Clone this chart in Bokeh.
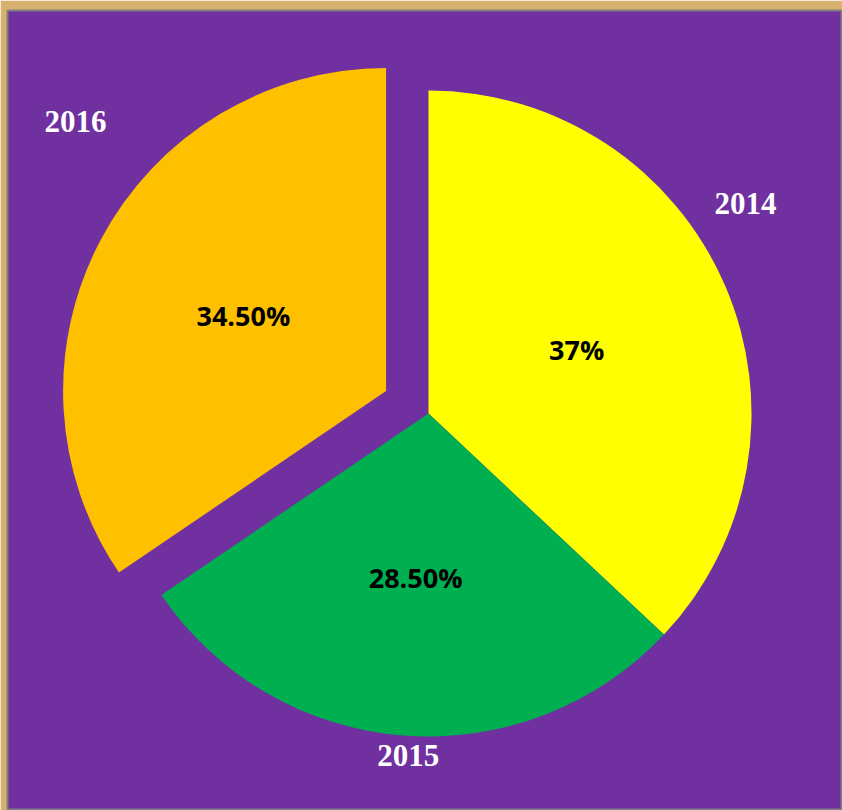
import math
from bokeh.plotting import figure
from bokeh.models import Range1d, ColumnDataSource
from bokeh.core.properties import value
from bokeh.embed import file_html
from bokeh.resources import INLINE

# ---- data ----
years = ["2014", "2015", "2016"]
shares = [37.0, 28.5, 34.5]
pct_labels = ["37%", "28.50%", "34.50%"]
colors = ["#FFFF00", "#00B050", "#FFC000"]

# ---- layout (data units == screen pixels) ----
W, H = 842, 810
BL, BT = 7, 10          # golden frame widths (left, top)
cx, cy = 428, 397
R = 323
explode = [0, 0, 48]
pct_r = [0.5, 0.51, 0.5]
# outside category label placement: (angle in degrees, distance in px) from slice centre
cat_pos = [(33.5, 380), (-93.4, 343), (139.1, 411)]

total = sum(shares)
starts, ends, xs, ys, px, py, lx, ly = [], [], [], [], [], [], [], []
a = math.pi / 2
for i, s in enumerate(shares):
    sweep = s / total * 2 * math.pi
    st, en = a, a - sweep
    mid = (st + en) / 2
    ox = cx + explode[i] * math.cos(mid)
    oy = cy + explode[i] * math.sin(mid)
    starts.append(st); ends.append(en)
    xs.append(ox); ys.append(oy)
    px.append(ox + pct_r[i] * R * math.cos(mid))
    py.append(oy + pct_r[i] * R * math.sin(mid))
    ang, dist = cat_pos[i]
    lx.append(ox + dist * math.cos(math.radians(ang)))
    ly.append(oy + dist * math.sin(math.radians(ang)))
    a = en

src = ColumnDataSource(dict(x=xs, y=ys, start=starts, end=ends, color=colors,
                            px=px, py=py, pct=pct_labels, lx=lx, ly=ly, year=years))

p = figure(width=W, height=H, output_backend="svg", toolbar_location=None,
           x_range=Range1d(BL, W), y_range=Range1d(0, H - BT),
           min_border_left=BL, min_border_top=BT, min_border_right=0, min_border_bottom=0)
p.axis.visible = False
p.grid.visible = False
p.background_fill_color = "#7030A0"
p.border_fill_color = "#D9B16E"
p.outline_line_color = "#7F7F7F"
p.outline_line_width = 2

p.wedge(x="x", y="y", radius=R, start_angle="start", end_angle="end",
        direction="clock", fill_color="color", line_color=None, source=src)

p.text(x="px", y="py", text="pct", source=src, text_align="center",
       text_baseline="middle", text_font=value("Open Sans"), text_font_style="bold",
       text_font_size="27px", text_color="black")

p.text(x="lx", y="ly", text="year", source=src, text_align="center",
       text_baseline="middle", text_font=value("Liberation Serif"), text_font_style="bold",
       text_font_size="31px", text_color="white")

open("out.html", "w").write(file_html(p, INLINE))
